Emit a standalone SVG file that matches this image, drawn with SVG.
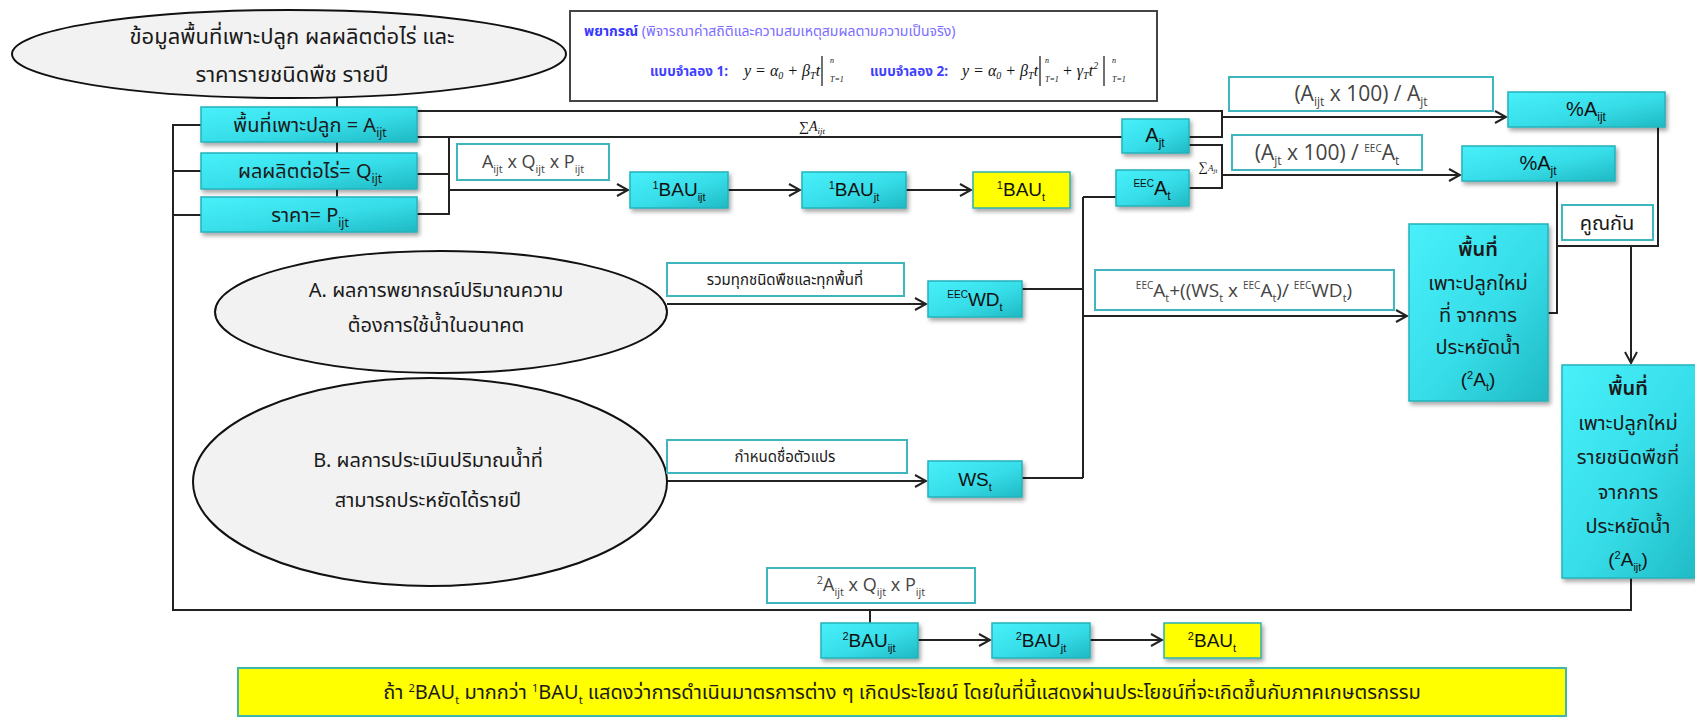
<svg xmlns="http://www.w3.org/2000/svg" width="1695" height="718" viewBox="0 0 1695 718">
<defs>
<linearGradient id="cy" x1="0" y1="0" x2="1" y2="1">
<stop offset="0" stop-color="#48f0fa"/>
<stop offset="0.55" stop-color="#36dde8"/>
<stop offset="1" stop-color="#1fb9c3"/>
</linearGradient>
<filter id="sh" x="-10%" y="-10%" width="130%" height="140%">
<feDropShadow dx="2" dy="3" stdDeviation="2" flood-color="#000" flood-opacity="0.35"/>
</filter>
<marker id="ar" markerWidth="14" markerHeight="14" refX="12" refY="7" orient="auto" markerUnits="userSpaceOnUse">
<path d="M1,1 L12,7 L1,13" fill="none" stroke="#222" stroke-width="2"/>
</marker>
</defs>
<style>
.cn{fill:url(#cy);stroke:#25b3bb;stroke-width:1.5;filter:url(#sh)}
.yl{fill:#ffff00;stroke:#2bb0b0;stroke-width:1.5;filter:url(#sh)}
.lb{fill:#fff;stroke:#3fb6bd;stroke-width:2}
.el{fill:#f2f2f2;stroke:#111;stroke-width:2}
.c path{fill:none;stroke:#222;stroke-width:2}
.th{font-family:"Noto Sans Thai","Noto Sans",sans-serif;fill:#1a1a1a;text-anchor:middle}
.sn{font-family:"Liberation Sans",Arial,sans-serif;fill:#111;text-anchor:middle}
.gl{font-family:"Open Sans","Liberation Sans",sans-serif;fill:#444;text-anchor:middle}
.m{font-family:"Liberation Serif","Times New Roman",serif;font-style:italic;fill:#111}
.tb{font-family:"Noto Sans Thai","Noto Sans",sans-serif;font-weight:bold;fill:#4040ff}
</style>

<g id="connectors" class="c">
<path d="M337,98 V107"/>
<path d="M337,142 V153"/>
<path d="M337,189 V197"/>
<path d="M201,125 H173 V610 H1631 V578"/>
<path d="M173,171 H201"/>
<path d="M173,215 H201"/>
<path d="M417,111 H1222 V137 H1189"/>
<path d="M417,137 H1122"/>
<path d="M449,137 V214 H417"/>
<path d="M417,174 H449"/>
<path d="M449,190 H628" marker-end="url(#ar)"/>
<path d="M728,190 H800" marker-end="url(#ar)"/>
<path d="M906,190 H971" marker-end="url(#ar)"/>
<path d="M1222,117 H1506" marker-end="url(#ar)"/>
<path d="M1189,145 H1222 V188 H1189"/>
<path d="M1222,175 H1460" marker-end="url(#ar)"/>
<path d="M1083,197 H1116"/>
<path d="M1083,197 V478"/>
<path d="M1022,289 H1083"/>
<path d="M1022,478 H1083"/>
<path d="M1083,316 H1407" marker-end="url(#ar)"/>
<path d="M667,304 H926" marker-end="url(#ar)"/>
<path d="M667,481 H926" marker-end="url(#ar)"/>
<path d="M1557,181 V313 H1548"/>
<path d="M1658,127 V246 H1557"/>
<path d="M1631,246 V363" marker-end="url(#ar)"/>
<path d="M870,610 V623"/>
<path d="M918,640 H990" marker-end="url(#ar)"/>
<path d="M1090,640 H1162" marker-end="url(#ar)"/>
</g>

<g id="source">
<ellipse class="el" cx="289" cy="54" rx="277" ry="44"/>
<text class="th" x="292" y="44" font-size="22">ข้อมูลพื้นที่เพาะปลูก ผลผลิตต่อไร่ และ</text>
<text class="th" x="292" y="82" font-size="22">ราคารายชนิดพืช รายปี</text>
</g>

<g id="forecast">
<rect x="570" y="11" width="587" height="90" fill="#fff" stroke="#444" stroke-width="2"/>
<text x="584" y="36" font-size="14" style="font-family:'Noto Sans Thai','Noto Sans',sans-serif"><tspan font-weight="bold" fill="#3a3aff">พยากรณ์</tspan><tspan fill="#7a6cff"> (พิจารณาค่าสถิติและความสมเหตุสมผลตามความเป็นจริง)</tspan></text>
<text class="tb" x="650" y="76" font-size="13.5">แบบจำลอง 1:</text>
<text class="m" x="744" y="76" font-size="16">y = α<tspan dy="3" font-size="10">0</tspan><tspan dy="-3"> + β</tspan><tspan dy="3" font-size="10">T</tspan><tspan dy="-3">t</tspan></text>
<path d="M822,56 V86" stroke="#111" stroke-width="1.2"/>
<text class="m" x="830" y="63" font-size="8">n</text>
<text class="m" x="830" y="82" font-size="8">T=1</text>
<text class="tb" x="870" y="76" font-size="13.5">แบบจำลอง 2:</text>
<text class="m" x="962" y="76" font-size="16">y = α<tspan dy="3" font-size="10">0</tspan><tspan dy="-3"> + β</tspan><tspan dy="3" font-size="10">T</tspan><tspan dy="-3">t</tspan></text>
<path d="M1040,56 V86" stroke="#111" stroke-width="1.2"/>
<text class="m" x="1045" y="63" font-size="8">n</text>
<text class="m" x="1045" y="82" font-size="8">T=1</text>
<text class="m" x="1062" y="76" font-size="16">+ γ<tspan dy="3" font-size="10">T</tspan><tspan dy="-3">t</tspan><tspan dy="-7" font-size="10">2</tspan></text>
<path d="M1104,56 V86" stroke="#111" stroke-width="1.2"/>
<text class="m" x="1112" y="63" font-size="8">n</text>
<text class="m" x="1112" y="82" font-size="8">T=1</text>
</g>

<g id="area">
<rect class="cn" x="201" y="107" width="216" height="35"/>
<text class="th" x="310" y="132" font-size="20">พื้นที่เพาะปลูก = A<tspan dy="5" font-size="12">ijt</tspan></text>
</g>
<g id="yield">
<rect class="cn" x="201" y="153" width="216" height="36"/>
<text class="th" x="310" y="178" font-size="20">ผลผลิตต่อไร่= Q<tspan dy="5" font-size="12">ijt</tspan></text>
</g>
<g id="price">
<rect class="cn" x="201" y="197" width="216" height="35"/>
<text class="th" x="310" y="222" font-size="20">ราคา= P<tspan dy="5" font-size="12">ijt</tspan></text>
</g>

<g id="lbl-aqp1">
<rect class="lb" x="457" y="144" width="152" height="36"/>
<text class="gl" x="533" y="168" font-size="18">A<tspan dy="5" font-size="11">ijt</tspan><tspan dy="-5"> x Q</tspan><tspan dy="5" font-size="11">ijt</tspan><tspan dy="-5"> x P</tspan><tspan dy="5" font-size="11">ijt</tspan></text>
</g>

<g id="bau1-ijt">
<rect class="cn" x="630" y="172" width="98" height="36"/>
<text class="sn" x="679" y="196" font-size="19"><tspan dy="-7" font-size="11">1</tspan><tspan dy="7">BAU</tspan><tspan dy="5" font-size="11">ijt</tspan></text>
</g>
<g id="bau1-jt">
<rect class="cn" x="802" y="172" width="104" height="36"/>
<text class="sn" x="854" y="196" font-size="19"><tspan dy="-7" font-size="11">1</tspan><tspan dy="7">BAU</tspan><tspan dy="5" font-size="11">jt</tspan></text>
</g>
<g id="bau1-t">
<rect class="yl" x="973" y="172" width="97" height="36"/>
<text class="sn" x="1021" y="196" font-size="19"><tspan dy="-7" font-size="11">1</tspan><tspan dy="7">BAU</tspan><tspan dy="5" font-size="11">t</tspan></text>
</g>

<text class="m" x="812" y="131" font-size="14" fill="#555" text-anchor="middle" style="font-style:normal">∑<tspan font-style="italic">A</tspan><tspan dy="3" font-size="9" font-style="italic">ijt</tspan></text>

<g id="ajt">
<rect class="cn" x="1122" y="119" width="67" height="34"/>
<text class="sn" x="1155" y="142" font-size="20">A<tspan dy="5" font-size="12">jt</tspan></text>
</g>
<g id="eec-at">
<rect class="cn" x="1116" y="170" width="73" height="36"/>
<text class="sn" x="1152" y="195" font-size="20"><tspan dy="-8" font-size="10">EEC</tspan><tspan dy="8">A</tspan><tspan dy="5" font-size="12">t</tspan></text>
</g>
<text class="m" x="1208" y="171" font-size="13" fill="#555" text-anchor="middle" style="font-style:normal">∑<tspan font-style="italic" font-size="9">A</tspan><tspan dy="2" font-size="7" font-style="italic">jt</tspan></text>

<g id="lbl-pct-ijt">
<rect class="lb" x="1229" y="77" width="264" height="34"/>
<text class="gl" x="1361" y="101" font-size="21">(A<tspan dy="5" font-size="12">ijt</tspan><tspan dy="-5"> x 100) / A</tspan><tspan dy="5" font-size="12">jt</tspan></text>
</g>
<g id="lbl-pct-jt">
<rect class="lb" x="1232" y="135" width="190" height="35"/>
<text class="gl" x="1327" y="160" font-size="21">(A<tspan dy="5" font-size="12">jt</tspan><tspan dy="-5"> x 100) / </tspan><tspan dy="-8" font-size="10">EEC</tspan><tspan dy="8">A</tspan><tspan dy="5" font-size="12">t</tspan></text>
</g>

<g id="pct-aijt">
<rect class="cn" x="1508" y="92" width="157" height="35"/>
<text class="sn" x="1586" y="116" font-size="20">%A<tspan dy="5" font-size="12">ijt</tspan></text>
</g>
<g id="pct-ajt">
<rect class="cn" x="1462" y="146" width="153" height="35"/>
<text class="sn" x="1538" y="170" font-size="20">%A<tspan dy="5" font-size="12">jt</tspan></text>
</g>

<g id="lbl-multiply">
<rect class="lb" x="1562" y="205" width="91" height="35"/>
<text class="th" x="1607" y="230" font-size="20" fill="#333">คูณกัน</text>
</g>

<g id="demand">
<ellipse class="el" cx="441" cy="312" rx="226" ry="61"/>
<text class="th" x="436" y="297" font-size="20">A. ผลการพยากรณ์ปริมาณความ</text>
<text class="th" x="436" y="332" font-size="20">ต้องการใช้น้ำในอนาคต</text>
</g>
<g id="lbl-sum">
<rect class="lb" x="667" y="263" width="237" height="33"/>
<text class="th" x="785" y="285" font-size="15">รวมทุกชนิดพืชและทุกพื้นที่</text>
</g>
<g id="eec-wd">
<rect class="cn" x="928" y="281" width="94" height="36"/>
<text class="sn" x="975" y="306" font-size="19"><tspan dy="-8" font-size="10">EEC</tspan><tspan dy="8">WD</tspan><tspan dy="5" font-size="11">t</tspan></text>
</g>

<g id="saving">
<ellipse class="el" cx="430" cy="482" rx="237" ry="104"/>
<text class="th" x="428" y="467" font-size="20">B. ผลการประเมินปริมาณน้ำที่</text>
<text class="th" x="428" y="507" font-size="20">สามารถประหยัดได้รายปี</text>
</g>
<g id="lbl-name">
<rect class="lb" x="667" y="440" width="240" height="33"/>
<text class="th" x="785" y="462" font-size="15">กำหนดชื่อตัวแปร</text>
</g>
<g id="ws">
<rect class="cn" x="928" y="461" width="94" height="36"/>
<text class="sn" x="975" y="486" font-size="19">WS<tspan dy="5" font-size="11">t</tspan></text>
</g>

<g id="lbl-formula">
<rect class="lb" x="1095" y="270" width="299" height="40"/>
<text class="gl" x="1244" y="297" font-size="19"><tspan dy="-8" font-size="10">EEC</tspan><tspan dy="8">A</tspan><tspan dy="5" font-size="11">t</tspan><tspan dy="-5">+((WS</tspan><tspan dy="5" font-size="11">t</tspan><tspan dy="-5"> x </tspan><tspan dy="-8" font-size="10">EEC</tspan><tspan dy="8">A</tspan><tspan dy="5" font-size="11">t</tspan><tspan dy="-5">)/ </tspan><tspan dy="-8" font-size="10">EEC</tspan><tspan dy="8">WD</tspan><tspan dy="5" font-size="11">t</tspan><tspan dy="-5">)</tspan></text>
</g>

<g id="new-area-t">
<rect class="cn" x="1409" y="224" width="139" height="177"/>
<text class="th" x="1478" y="256" font-size="20" font-weight="600">พื้นที่</text>
<text class="th" x="1478" y="290" font-size="20">เพาะปลูกใหม่</text>
<text class="th" x="1478" y="322" font-size="20">ที่ จากการ</text>
<text class="th" x="1478" y="354" font-size="20">ประหยัดน้ำ</text>
<text class="sn" x="1478" y="386" font-size="19">(<tspan dy="-7" font-size="11">2</tspan><tspan dy="7">A</tspan><tspan dy="5" font-size="11">t</tspan><tspan dy="-5">)</tspan></text>
</g>

<g id="new-area-ijt">
<rect class="cn" x="1562" y="365" width="140" height="213"/>
<text class="th" x="1628" y="395" font-size="20" font-weight="600">พื้นที่</text>
<text class="th" x="1628" y="430" font-size="20">เพาะปลูกใหม่</text>
<text class="th" x="1628" y="464" font-size="20">รายชนิดพืชที่</text>
<text class="th" x="1628" y="499" font-size="20">จากการ</text>
<text class="th" x="1628" y="533" font-size="20">ประหยัดน้ำ</text>
<text class="sn" x="1628" y="566" font-size="19">(<tspan dy="-7" font-size="11">2</tspan><tspan dy="7">A</tspan><tspan dy="5" font-size="11">ijt</tspan><tspan dy="-5">)</tspan></text>
</g>

<g id="lbl-aqp2">
<rect class="lb" x="767" y="568" width="208" height="35"/>
<text class="gl" x="871" y="591" font-size="18"><tspan dy="-7" font-size="11">2</tspan><tspan dy="7">A</tspan><tspan dy="5" font-size="11">ijt</tspan><tspan dy="-5"> x Q</tspan><tspan dy="5" font-size="11">ijt</tspan><tspan dy="-5"> x P</tspan><tspan dy="5" font-size="11">ijt</tspan></text>
</g>

<g id="bau2-ijt">
<rect class="cn" x="821" y="623" width="97" height="35"/>
<text class="sn" x="869" y="647" font-size="19"><tspan dy="-7" font-size="11">2</tspan><tspan dy="7">BAU</tspan><tspan dy="5" font-size="11">ijt</tspan></text>
</g>
<g id="bau2-jt">
<rect class="cn" x="992" y="623" width="98" height="35"/>
<text class="sn" x="1041" y="647" font-size="19"><tspan dy="-7" font-size="11">2</tspan><tspan dy="7">BAU</tspan><tspan dy="5" font-size="11">jt</tspan></text>
</g>
<g id="bau2-t">
<rect class="yl" x="1164" y="623" width="97" height="35"/>
<text class="sn" x="1212" y="647" font-size="19"><tspan dy="-7" font-size="11">2</tspan><tspan dy="7">BAU</tspan><tspan dy="5" font-size="11">t</tspan></text>
</g>

<g id="conclusion">
<rect x="238" y="668" width="1328" height="48" fill="#ffff00" stroke="#3fb6a8" stroke-width="2"/>
<text class="th" x="902" y="699" font-size="20">ถ้า <tspan dy="-7" font-size="11">2</tspan><tspan dy="7">BAU</tspan><tspan dy="5" font-size="11">t</tspan><tspan dy="-5"> มากกว่า </tspan><tspan dy="-7" font-size="11">1</tspan><tspan dy="7">BAU</tspan><tspan dy="5" font-size="11">t</tspan><tspan dy="-5"> แสดงว่าการดำเนินมาตรการต่าง ๆ เกิดประโยชน์ โดยในที่นี้แสดงผ่านประโยชน์ที่จะเกิดขึ้นกับภาคเกษตรกรรม</tspan></text>
</g>
</svg>
